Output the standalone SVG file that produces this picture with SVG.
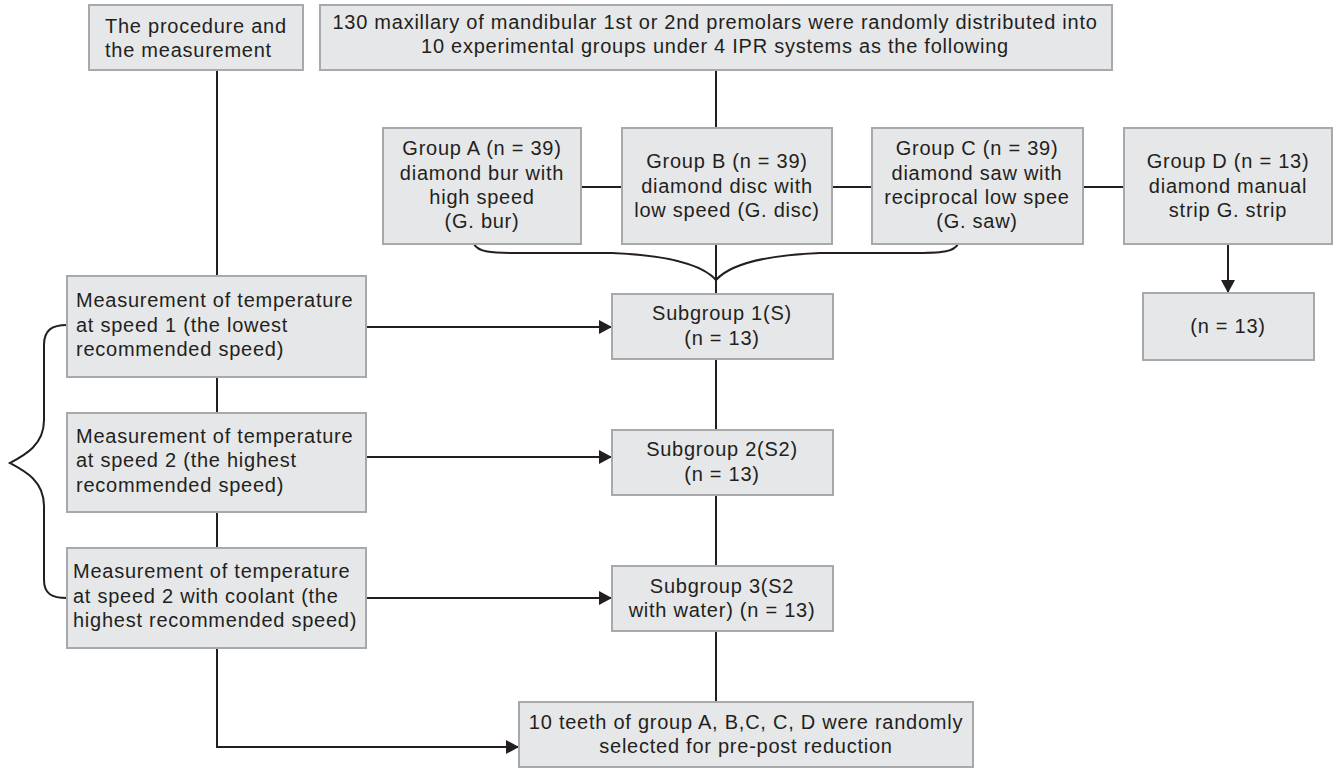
<svg xmlns="http://www.w3.org/2000/svg" width="1335" height="768" viewBox="0 0 1335 768">
<style>
.box{fill:#e6e7e9;stroke:#a7a9ac;stroke-width:2}
.t{font-family:"Liberation Sans",Arial,sans-serif;font-size:20px;letter-spacing:0.75px;fill:#231f20}
.c{text-anchor:middle}
.ln{fill:none;stroke:#231f20;stroke-width:2}
</style>
<defs>
<marker id="ah" viewBox="0 0 13 14" refX="13" refY="7" markerWidth="13" markerHeight="14" markerUnits="userSpaceOnUse" orient="auto">
<path d="M0,0 L13,7 L0,14 z" fill="#231f20"/>
</marker>
</defs>
<rect width="1335" height="768" fill="#ffffff"/>
<g id="connectors">
<path class="ln" d="M217,70 V276"/>
<path class="ln" d="M217,377 V413"/>
<path class="ln" d="M217,512 V548"/>
<path class="ln" d="M217,648 V747 H519" marker-end="url(#ah)"/>
<path class="ln" d="M716,70 V128"/>
<path class="ln" d="M581,187 H622 M832,187 H872 M1083,187 H1124"/>
<path class="ln" d="M716,244 V294"/>
<path class="ln" d="M474,244 C478,252 490,253 520,253 L612,253 C660,255 700,262 716,280 C732,262 772,255 820,253 L912,253 C942,253 954,252 958,244"/>
<path class="ln" d="M1228,244 V293" marker-end="url(#ah)"/>
<path class="ln" d="M366,327 H612" marker-end="url(#ah)"/>
<path class="ln" d="M366,457 H612" marker-end="url(#ah)"/>
<path class="ln" d="M366,598 H612" marker-end="url(#ah)"/>
<path class="ln" d="M716,359 V430 M716,495 V566 M716,631 V702"/>
<path class="ln" d="M67,325 C52,325 44,330 44,345 L44,420 C44,445 25,455 10,463 C25,471 44,481 44,506 L44,580 C44,594 52,598 67,598"/>
</g>
<g id="procedure">
<rect class="box" x="89" y="5" width="214" height="65"/>
<text class="t" x="105" y="33">The procedure and</text>
<text class="t" x="105" y="57">the measurement</text>
</g>
<g id="samples">
<rect class="box" x="320" y="5" width="792" height="65"/>
<text class="t c" x="715" y="29">130 maxillary of mandibular 1st or 2nd premolars were randomly distributed into</text>
<text class="t c" x="715" y="53">10 experimental groups under 4 IPR systems as the following</text>
</g>
<g id="groupA">
<rect class="box" x="383" y="128" width="198" height="116"/>
<text class="t c" x="482" y="155">Group A (n = 39)</text>
<text class="t c" x="482" y="180">diamond bur with</text>
<text class="t c" x="482" y="204">high speed</text>
<text class="t c" x="482" y="228">(G. bur)</text>
</g>
<g id="groupB">
<rect class="box" x="622" y="128" width="210" height="116"/>
<text class="t c" x="727" y="168">Group B (n = 39)</text>
<text class="t c" x="727" y="193">diamond disc with</text>
<text class="t c" x="727" y="217">low speed (G. disc)</text>
</g>
<g id="groupC">
<rect class="box" x="872" y="128" width="211" height="116"/>
<text class="t c" x="977" y="155">Group C (n = 39)</text>
<text class="t c" x="977" y="180">diamond saw with</text>
<text class="t c" x="977" y="204">reciprocal low spee</text>
<text class="t c" x="977" y="228">(G. saw)</text>
</g>
<g id="groupD">
<rect class="box" x="1124" y="128" width="208" height="116"/>
<text class="t c" x="1228" y="168">Group D (n = 13)</text>
<text class="t c" x="1228" y="193">diamond manual</text>
<text class="t c" x="1228" y="217">strip G. strip</text>
</g>
<g id="groupD-n">
<rect class="box" x="1143" y="293" width="171" height="67"/>
<text class="t c" x="1228" y="333">(n = 13)</text>
</g>
<g id="measure1">
<rect class="box" x="67" y="276" width="299" height="101"/>
<text class="t" x="76" y="307">Measurement of temperature</text>
<text class="t" x="76" y="332">at speed 1 (the lowest</text>
<text class="t" x="76" y="356">recommended speed)</text>
</g>
<g id="measure2">
<rect class="box" x="67" y="413" width="299" height="99"/>
<text class="t" x="76" y="443">Measurement of temperature</text>
<text class="t" x="76" y="467">at speed 2 (the highest</text>
<text class="t" x="76" y="492">recommended speed)</text>
</g>
<g id="measure3">
<rect class="box" x="67" y="548" width="299" height="100"/>
<text class="t" x="73" y="578">Measurement of temperature</text>
<text class="t" x="73" y="603">at speed 2 with coolant (the</text>
<text class="t" x="73" y="627">highest recommended speed)</text>
</g>
<g id="subgroup1">
<rect class="box" x="612" y="294" width="221" height="65"/>
<text class="t c" x="722" y="320">Subgroup 1(S)</text>
<text class="t c" x="722" y="345">(n = 13)</text>
</g>
<g id="subgroup2">
<rect class="box" x="612" y="430" width="221" height="65"/>
<text class="t c" x="722" y="456">Subgroup 2(S2)</text>
<text class="t c" x="722" y="481">(n = 13)</text>
</g>
<g id="subgroup3">
<rect class="box" x="612" y="566" width="221" height="65"/>
<text class="t c" x="722" y="593">Subgroup 3(S2</text>
<text class="t c" x="722" y="617">with water) (n = 13)</text>
</g>
<g id="selected">
<rect class="box" x="519" y="702" width="454" height="65"/>
<text class="t c" x="746" y="729">10 teeth of group A, B,C, C, D were randomly</text>
<text class="t c" x="746" y="753">selected for pre-post reduction</text>
</g>
</svg>
